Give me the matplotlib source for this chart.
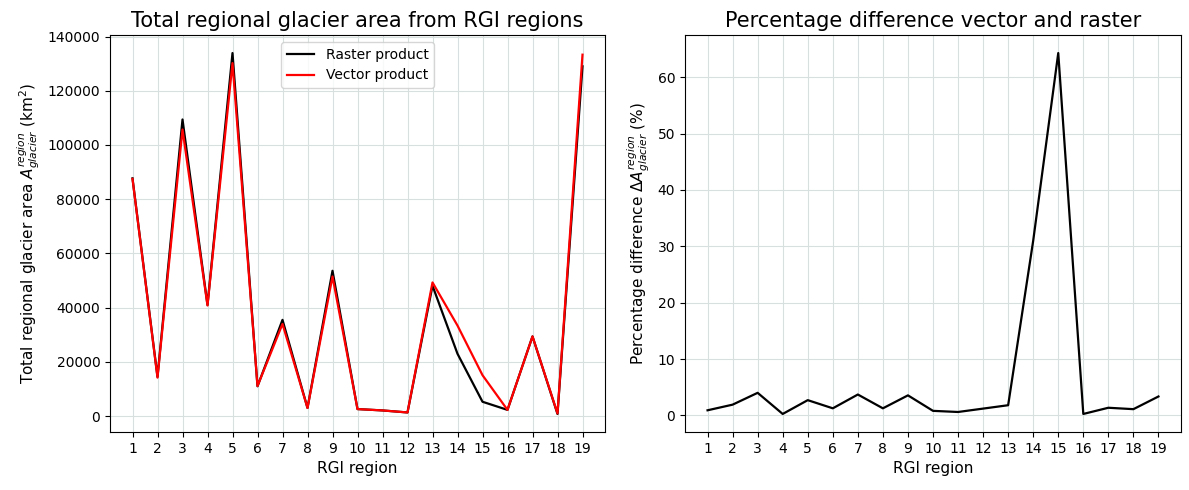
import matplotlib
matplotlib.use("Agg")
import matplotlib.pyplot as plt
import numpy as np

regions = list(range(1, 20))
raster_area = [87700, 14500, 109400, 41000, 133900, 11000, 35500, 3000, 53600, 2600,
               2100, 1350, 48100, 23000, 5300, 2300, 29400, 800, 129000]
vector_area = [87500, 14200, 105700, 40800, 130200, 11100, 34000, 3000, 51500, 2600,
               2100, 1350, 49300, 33400, 15100, 2300, 29400, 1000, 133300]
pct_diff = [0.9, 1.9, 4.0, 0.25, 2.7, 1.25, 3.7, 1.25, 3.55, 0.8,
            0.6, 1.2, 1.8, 31.0, 64.3, 0.25, 1.35, 1.1, 3.35]

fig = plt.figure(figsize=(11.89, 4.9), dpi=100)
ax1 = fig.add_axes([110/1189, 1-432/490, 495/1189, 397/490])
ax2 = fig.add_axes([685/1189, 1-432/490, 496/1189, 397/490])

ax1.plot(regions, raster_area, color='black', lw=1.6, label='Raster product')
ax1.plot(regions, vector_area, color='red', lw=1.6, label='Vector product')
ax1.set_title('Total regional glacier area from RGI regions', fontsize=15)
ax1.set_xlabel('RGI region', fontsize=11)
ax1.set_ylabel(r'Total regional glacier area $A_{glacier}^{region}$ (km$^2$)', fontsize=11)
ax1.set_xticks(regions)
ax1.grid(True, color='#d8dfdf', lw=0.8)
ax1.legend(loc='upper center', fontsize=10)

ax2.plot(regions, pct_diff, color='black', lw=1.6)
ax2.set_title('Percentage difference vector and raster', fontsize=15)
ax2.set_xlabel('RGI region', fontsize=11)
ax2.set_ylabel(r'Percentage difference $\Delta A_{glacier}^{region}$ (%)', fontsize=11)
ax2.set_xticks(regions)
ax2.grid(True, color='#d8dfdf', lw=0.8)

fig.savefig('out.png', dpi=100)
